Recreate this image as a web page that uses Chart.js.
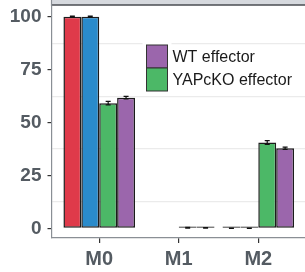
<!DOCTYPE html>
<html>
<head>
<meta charset="utf-8">
<script src="https://cdn.jsdelivr.net/npm/chart.js@4/dist/chart.umd.min.js"></script>
<style>
  html, body { margin: 0; padding: 0; background: #fff; }
  #wrap { width: 305px; height: 272px; overflow: hidden; }
</style>
</head>
<body>
<div id="wrap"><canvas id="chartBar" width="310" height="272"></canvas></div>
<script>
// categories and values
const categories = ["M0", "M1", "M2"];
const group1Values = [100, null, 0.1];
const group2Values = [100, null, 0.1];
const yapEffValues = [59.2, 0.3, 40.6];
const wtEffValues = [61.8, 0.3, 37.9];
const group1Err = [0.3, 0, 0.1];
const group2Err = [0.3, 0, 0.1];
const yapEffErr = [0.8, 0.2, 0.9];
const wtEffErr = [0.6, 0.1, 0.5];
const yTicks = [0, 25, 50, 75, 100];
const yMinor = [12.5, 37.5, 62.5, 87.5];
const legendLabels = ["WT effector", "YAPcKO effector"];

const toPoints = (vals) => vals.map((v, i) => ({ x: i, y: v }));

const errorBars = {
    id: "errorBars",
    afterDatasetsDraw(chart) {
        const ctx = chart.ctx;
        const y = chart.scales.y;
        ctx.save();
        ctx.strokeStyle = "#111";
        ctx.lineWidth = 1.2;
        chart.data.datasets.forEach((ds, di) => {
            const meta = chart.getDatasetMeta(di);
            meta.data.forEach((bar, i) => {
                const v = ds.data[i].y;
                if (v === null) return;
                const e = ds.err[i];
                const top = y.getPixelForValue(v + e);
                const bot = y.getPixelForValue(v - e);
                ctx.beginPath();
                ctx.moveTo(bar.x, top); ctx.lineTo(bar.x, bot);
                ctx.moveTo(bar.x - 2.5, top); ctx.lineTo(bar.x + 2.5, top);
                ctx.moveTo(bar.x - 2.5, bot); ctx.lineTo(bar.x + 2.5, bot);
                ctx.stroke();
            });
        });
        ctx.restore();
    },
};

const panelDeco = {
    id: "panelDeco",
    beforeDraw(chart) {
        const ctx = chart.ctx;
        const a = chart.chartArea;
        ctx.save();
        // facet strip
        ctx.fillStyle = "#d6d9de";
        ctx.fillRect(a.left, 0, chart.width - a.left, a.top - 1);
        ctx.strokeStyle = "#4a4d52";
        ctx.lineWidth = 1.5;
        ctx.beginPath();
        ctx.moveTo(a.left, a.top - 1);
        ctx.lineTo(chart.width, a.top - 1);
        ctx.stroke();
        ctx.strokeStyle = "#8a8f95";
        ctx.lineWidth = 1.2;
        ctx.beginPath();
        ctx.moveTo(a.left, 0);
        ctx.lineTo(a.left, a.top);
        ctx.stroke();
        ctx.restore();
    },
    afterDraw(chart) {
        const ctx = chart.ctx;
        const a = chart.chartArea;
        const kx = a.left + 95, ky = a.top + 39, kw = 21, kh = 23;
        const cols = ["#9b66ac", "#4cb867"];
        ctx.save();
        ctx.fillStyle = "#fff";
        ctx.fillRect(kx - 4, ky - 4, kw + 8, kh * 2 + 6);
        cols.forEach((c, i) => {
            ctx.fillStyle = c;
            ctx.fillRect(kx, ky + i * kh, kw, kh);
            ctx.strokeStyle = "#333";
            ctx.lineWidth = 1;
            ctx.strokeRect(kx, ky + i * kh, kw, kh);
            ctx.fillStyle = "#1a1a1a";
            ctx.font = "16px 'Liberation Sans', Arial, sans-serif";
            ctx.textBaseline = "middle";
            ctx.fillText(legendLabels[i], kx + kw + 5, ky + i * kh + kh / 2 + 1);
        });
        ctx.restore();
    },
};

const yFont = { family: "'Liberation Sans', Arial, sans-serif", size: 19, weight: "bold" };
const xFont = { family: "'Liberation Sans', Arial, sans-serif", size: 20, weight: "bold" };

new Chart(document.getElementById("chartBar"), {
    type: "bar",
    data: {
        datasets: [
            { label: "group 1", data: toPoints(group1Values), err: group1Err, backgroundColor: "#df3a4a" },
            { label: "group 2", data: toPoints(group2Values), err: group2Err, backgroundColor: "#2a8bcb" },
            { label: legendLabels[1], data: toPoints(yapEffValues), err: yapEffErr, backgroundColor: "#4cb867" },
            { label: legendLabels[0], data: toPoints(wtEffValues), err: wtEffErr, backgroundColor: "#9b66ac" },
        ],
    },
    options: {
        responsive: false,
        animation: false,
        layout: { padding: { top: 6, right: 4, left: 0, bottom: 0 } },
        datasets: {
            bar: {
                borderColor: "#1c1c1c",
                borderWidth: 1.5,
                borderSkipped: false,
                categoryPercentage: 0.9,
                barPercentage: 1,
                minBarLength: 2,
            },
        },
        plugins: { legend: { display: false }, tooltip: { enabled: false } },
        scales: {
            x: {
                type: "linear",
                min: -0.6,
                max: 2.6,
                offset: false,
                afterBuildTicks: (s) => { s.ticks = categories.map((c, i) => ({ value: i })); },
                afterFit: (s) => { s.height = 34; s.paddingLeft = 0; s.paddingRight = 0; },
                grid: { offset: false, drawOnChartArea: false, tickLength: 5, tickColor: "#333", lineWidth: 1.2 },
                border: { color: "#8a8f95", width: 1.2 },
                ticks: {
                    autoSkip: false, maxRotation: 0, padding: 4,
                    color: "#545b62", font: xFont,
                    callback: (v) => categories[v],
                },
            },
            y: {
                min: -4.5,
                max: 105.1,
                afterBuildTicks: (s) => {
                    s.ticks = yTicks.concat(yMinor).sort((p, q) => p - q).map((v) => ({ value: v }));
                },
                afterFit: (s) => { s.width = 51.5; s.paddingTop = 0; s.paddingBottom = 0; },
                grid: {
                    color: (c) => (yMinor.includes(c.tick.value) ? "#ebebeb" : "rgba(0,0,0,0)"),
                    tickColor: (c) => (yMinor.includes(c.tick.value) ? "rgba(0,0,0,0)" : "#333"),
                    tickLength: 4,
                    lineWidth: 1.2,
                },
                border: { color: "#8a8f95", width: 1.2 },
                ticks: {
                    padding: 6, color: "#545b62", font: yFont,
                    callback: (v) => (yTicks.includes(v) ? v : ""),
                },
            },
        },
    },
    plugins: [panelDeco, errorBars],
});
</script>
</body>
</html>
